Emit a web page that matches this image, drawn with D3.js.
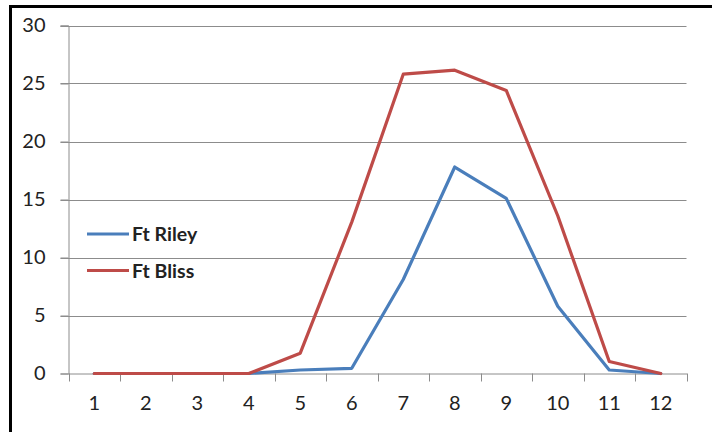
<!DOCTYPE html>
<html>
<head>
<meta charset="utf-8">
<script src="https://cdn.jsdelivr.net/npm/d3@7"></script>
<style>
  html, body { margin: 0; padding: 0; background: #fff; }
  svg { display: block; }
  text { font-family: Lato, "Open Sans", sans-serif; fill: #222; }
</style>
</head>
<body>
<svg id="chart" width="712" height="432"></svg>
<script>
const months = [1, 2, 3, 4, 5, 6, 7, 8, 9, 10, 11, 12];
const ftRiley = [0, 0, 0, 0, 0.3, 0.45, 8.1, 17.8, 15.1, 5.8, 0.3, 0];
const ftBliss = [0, 0, 0, 0, 1.75, 13.05, 25.8, 26.15, 24.4, 13.6, 1.03, 0];
const yTicks = [0, 5, 10, 15, 20, 25, 30];
const seriesNames = ["Ft Riley", "Ft Bliss"];
const seriesColors = ["#4A7EBB", "#BE4B48"];

const svg = d3.select("#chart");
const mLeft = 68.5, mRight = 686.5, mTop = 25.5, mBottom = 373.5;

// outer frame
svg.append("rect")
  .attr("x", 10.5).attr("y", 6.5).attr("width", 740).attr("height", 460)
  .attr("fill", "none").attr("stroke", "#000").attr("stroke-width", 3);

const x = d3.scaleBand().domain(months).range([mLeft, mRight]).padding(0);
const y = d3.scaleLinear().domain([0, 30]).range([mBottom, mTop]);

// gridlines
svg.append("g").selectAll("line").data(yTicks.filter(d => d > 0)).join("line")
  .attr("x1", mLeft - 8).attr("x2", mRight)
  .attr("y1", d => Math.round(y(d)) + 0.5).attr("y2", d => Math.round(y(d)) + 0.5)
  .attr("stroke", "#8c8c8c").attr("stroke-width", 1);

// y axis
const yAxis = svg.append("g").attr("transform", `translate(${mLeft},0)`)
  .call(d3.axisLeft(y).tickValues(yTicks).tickSize(8).tickPadding(15));
yAxis.select(".domain").attr("stroke", "#8c8c8c");
yAxis.selectAll(".tick line").attr("stroke", "#8c8c8c");
yAxis.selectAll("text").attr("font-size", 20).attr("fill", "#222")
  .attr("font-family", "Lato, 'Open Sans', sans-serif");

// x axis
const xAxis = svg.append("g").attr("transform", `translate(0,${mBottom})`)
  .call(d3.axisBottom(x).tickSize(0).tickPadding(22));
xAxis.select(".domain").attr("stroke", "#8c8c8c");
xAxis.selectAll("text").attr("font-size", 20).attr("fill", "#222")
  .attr("font-family", "Lato, 'Open Sans', sans-serif");
// tick marks at band boundaries
const bounds = months.map(m => x(m)).concat([x(months[months.length - 1]) + x.bandwidth()]);
svg.append("g").selectAll("line").data(bounds).join("line")
  .attr("x1", d => Math.round(d) + 0.5).attr("x2", d => Math.round(d) + 0.5)
  .attr("y1", mBottom).attr("y2", mBottom + 8)
  .attr("stroke", "#8c8c8c");

// lines
const line = d3.line()
  .x((d, i) => x(months[i]) + x.bandwidth() / 2)
  .y(d => y(d));

[ftRiley, ftBliss].forEach((s, i) => {
  svg.append("path").datum(s)
    .attr("d", line)
    .attr("fill", "none")
    .attr("stroke", seriesColors[i])
    .attr("stroke-width", 3.2)
    .attr("stroke-linejoin", "round")
    .attr("stroke-linecap", "round");
});

// legend
const legendY = [234, 270.5];
seriesNames.forEach((n, i) => {
  const g = svg.append("g");
  g.append("line")
    .attr("x1", 87).attr("x2", 129)
    .attr("y1", legendY[i]).attr("y2", legendY[i])
    .attr("stroke", seriesColors[i]).attr("stroke-width", 3.2);
  g.append("text")
    .attr("x", 132).attr("y", legendY[i] + 7)
    .attr("font-size", 19.5).attr("font-weight", "bold")
    .attr("fill", "#111")
    .text(n);
});
</script>
</body>
</html>
